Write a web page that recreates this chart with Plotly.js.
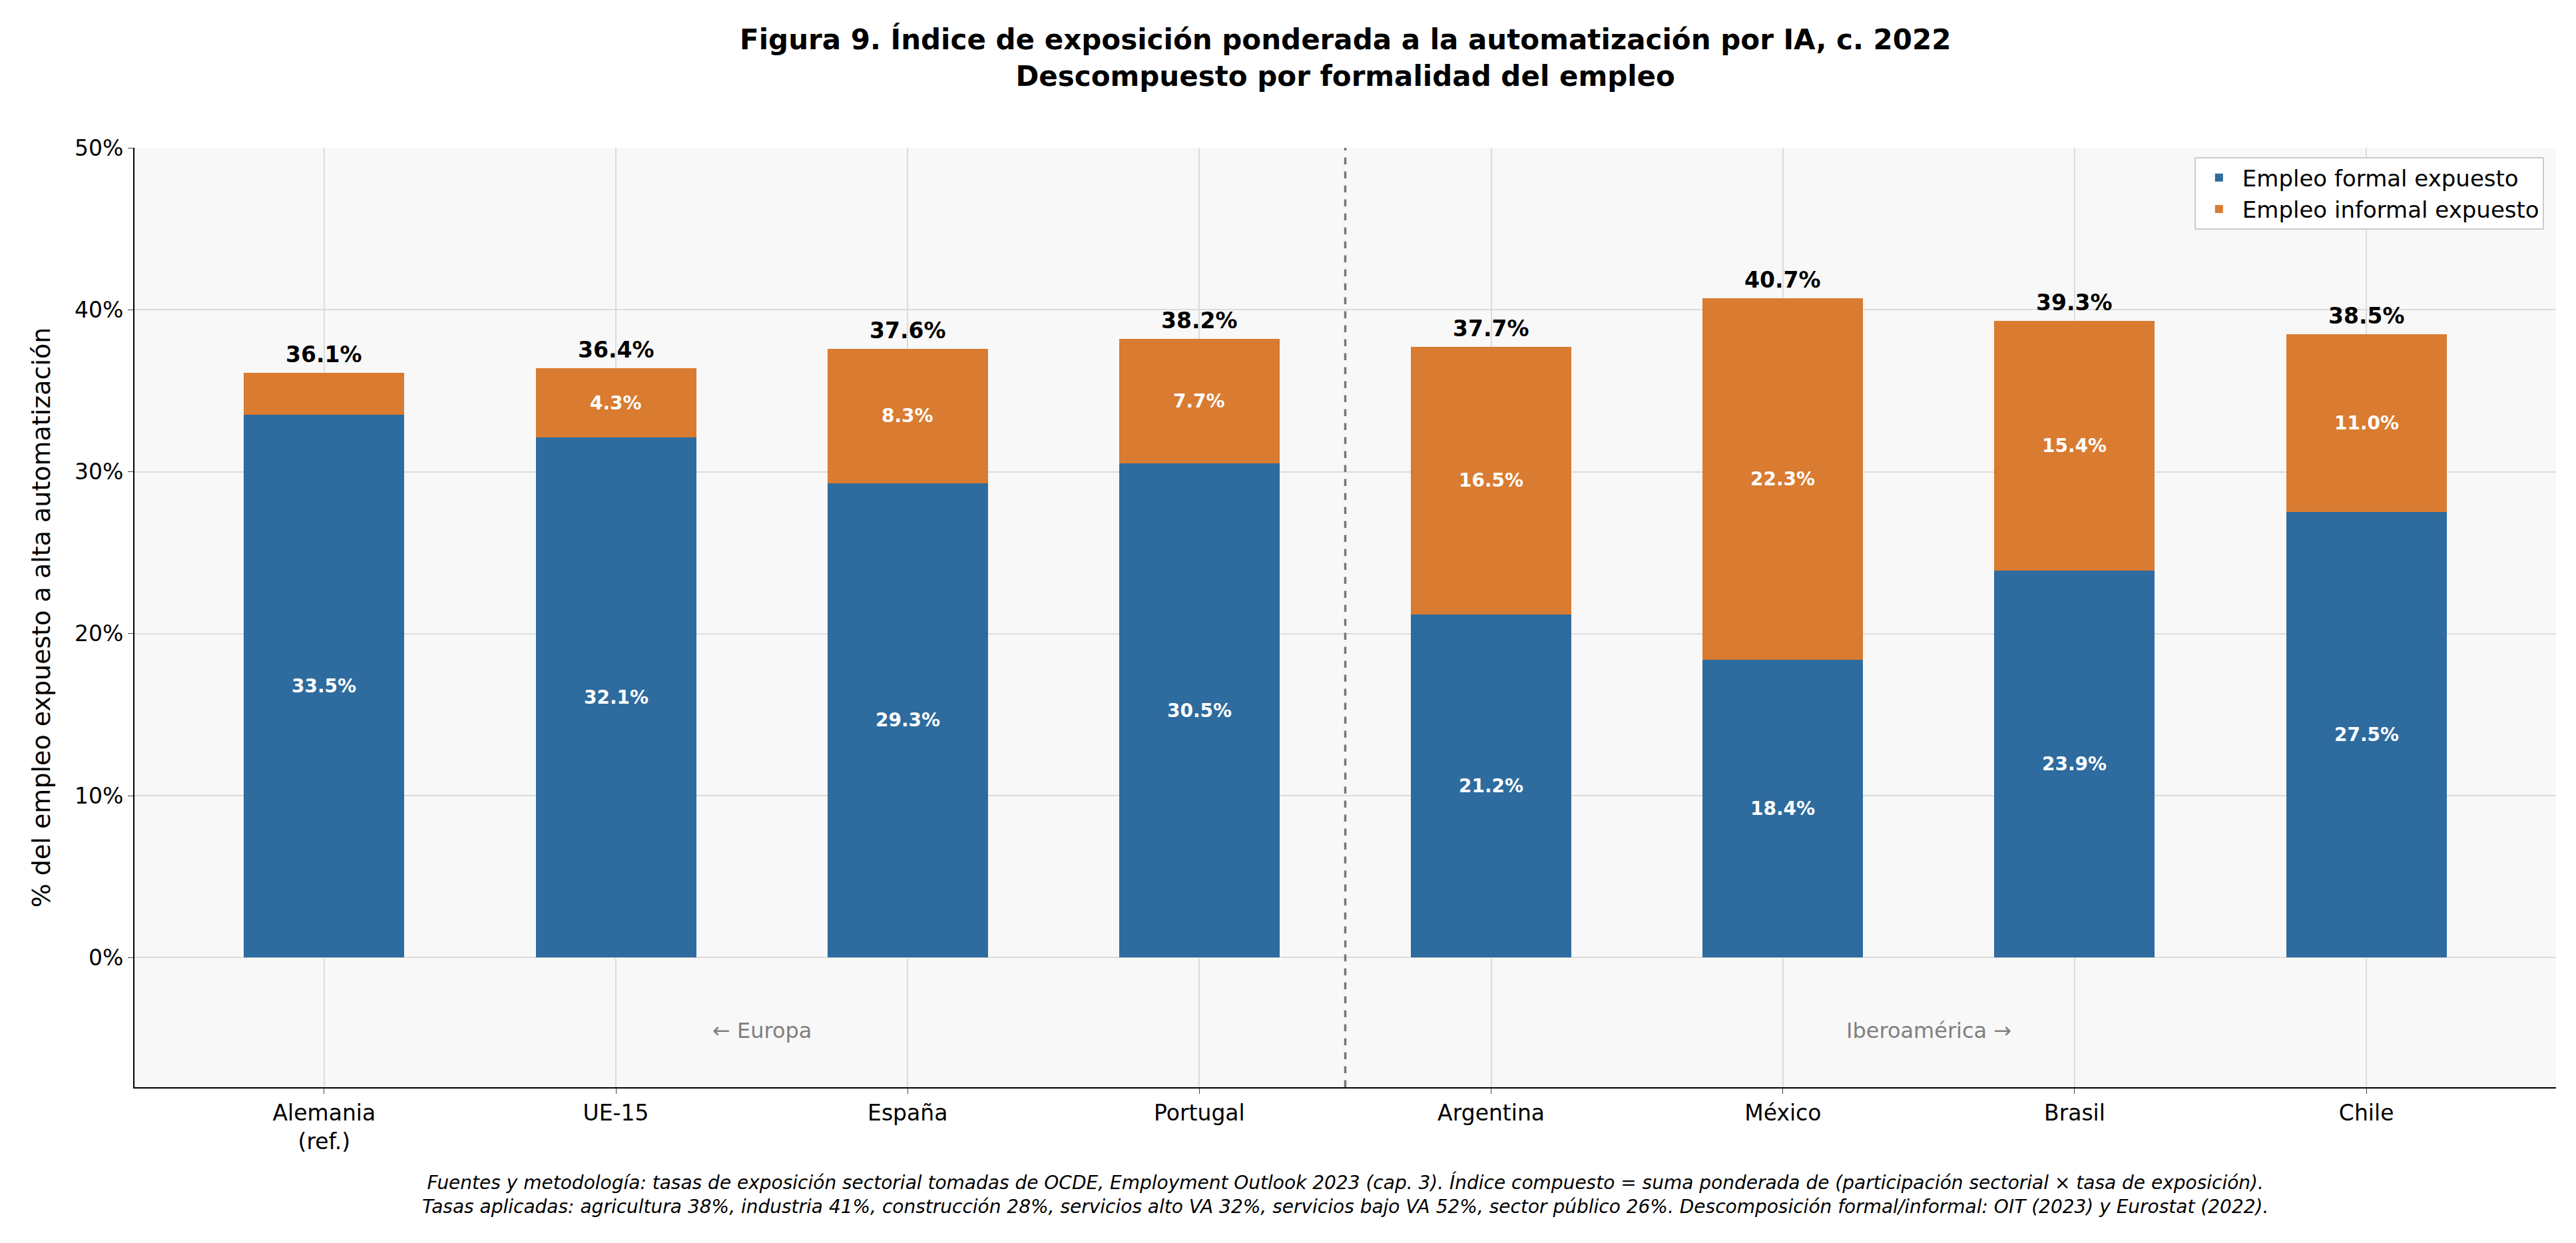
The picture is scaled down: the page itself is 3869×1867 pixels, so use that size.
<!DOCTYPE html>
<html><head><meta charset="utf-8">
<script src="https://cdn.plot.ly/plotly-3.0.1.min.js"></script>
<style>body{margin:0;background:#fff}</style></head>
<body><div id="c" style="width:3869px;height:1867px"></div>
<script>
const categories = ["Alemania<br>(ref.)","UE-15","España","Portugal","Argentina","México","Brasil","Chile"];
const formal = [33.5,32.1,29.3,30.5,21.2,18.4,23.9,27.5];
const informal = [2.6,4.3,8.3,7.7,16.5,22.3,15.4,11.0];
const totals = [36.1,36.4,37.6,38.2,37.7,40.7,39.3,38.5];
const yTicks = [0,10,20,30,40,50];

const xs = categories.map((_,i)=>i);
const F = "DejaVu Sans, sans-serif";
const ann = [];
xs.forEach(i=>{
  ann.push({x:i,y:formal[i]/2,text:"<b>"+formal[i].toFixed(1)+"%</b>",showarrow:false,font:{family:F,size:28,color:"#fff"}});
  if(informal[i]>3) ann.push({x:i,y:formal[i]+informal[i]/2,text:"<b>"+informal[i].toFixed(1)+"%</b>",showarrow:false,font:{family:F,size:28,color:"#fff"}});
  ann.push({x:i,y:totals[i],yshift:6,yanchor:"bottom",text:"<b>"+totals[i].toFixed(1)+"%</b>",showarrow:false,font:{family:F,size:33,color:"#000"}});
});
ann.push({x:1.5,y:-4.5,text:"← Europa",showarrow:false,font:{family:F,size:32,color:"#808080"}});
ann.push({x:5.5,y:-4.5,text:"Iberoamérica →",showarrow:false,font:{family:F,size:32,color:"#808080"}});
ann.push({xref:"paper",yref:"paper",x:0.5,y:-0.088,yanchor:"top",showarrow:false,
  text:"<i>Fuentes y metodología: tasas de exposición sectorial tomadas de OCDE, Employment Outlook 2023 (cap. 3). Índice compuesto = suma ponderada de (participación sectorial × tasa de exposición).<br>Tasas aplicadas: agricultura 38%, industria 41%, construcción 28%, servicios alto VA 32%, servicios bajo VA 52%, sector público 26%. Descomposición formal/informal: OIT (2023) y Eurostat (2022).</i>",
  font:{family:F,size:28,color:"#000"}});
ann.push({xref:"paper",yref:"paper",x:0.5,y:1.135,yanchor:"top",showarrow:false,
  text:"<b>Figura 9. Índice de exposición ponderada a la automatización por IA, c. 2022<br>Descompuesto por formalidad del empleo</b>",
  font:{family:F,size:42,color:"#000"}});

Plotly.newPlot("c",[
 {type:"bar",name:"Empleo formal expuesto",x:xs,y:formal,width:0.55,marker:{color:"#2e6b9e"},hoverinfo:"none"},
 {type:"bar",name:"Empleo informal expuesto",x:xs,y:informal,width:0.55,marker:{color:"#d97b30"},hoverinfo:"none"}
],{
 barmode:"stack",width:3869,height:1867,
 margin:{l:202,r:30,t:222,b:234},
 paper_bgcolor:"#fff",plot_bgcolor:"#f8f8f8",
 xaxis:{range:[-0.65,7.65],tickvals:xs,ticktext:categories,showgrid:true,gridcolor:"#dcdcdc",gridwidth:2,zeroline:false,
   showline:true,linecolor:"#000",linewidth:2,ticks:"outside",ticklen:8,tickfont:{family:F,size:33,color:"#000"},layer:"below traces"},
 yaxis:{range:[-8,50],tickvals:yTicks,ticktext:yTicks.map(v=>v+"%"),showgrid:true,gridcolor:"#dcdcdc",gridwidth:2,zeroline:false,
   showline:true,linecolor:"#000",linewidth:2,ticks:"outside",ticklen:8,tickfont:{family:F,size:33,color:"#000"},
   title:{text:"% del empleo expuesto a alta automatización",font:{family:F,size:38,color:"#000"},standoff:25}},
 shapes:[{type:"line",x0:3.5,x1:3.5,y0:-8,y1:50,line:{color:"#777",width:3.5,dash:"dash"}}],
 legend:{x:0.995,y:0.99,xanchor:"right",yanchor:"top",bgcolor:"#fff",bordercolor:"#ccc",borderwidth:2,font:{family:F,size:34,color:"#000"},traceorder:"normal",itemwidth:60},
 annotations:ann,showlegend:true
},{staticPlot:true});
</script></body></html>
